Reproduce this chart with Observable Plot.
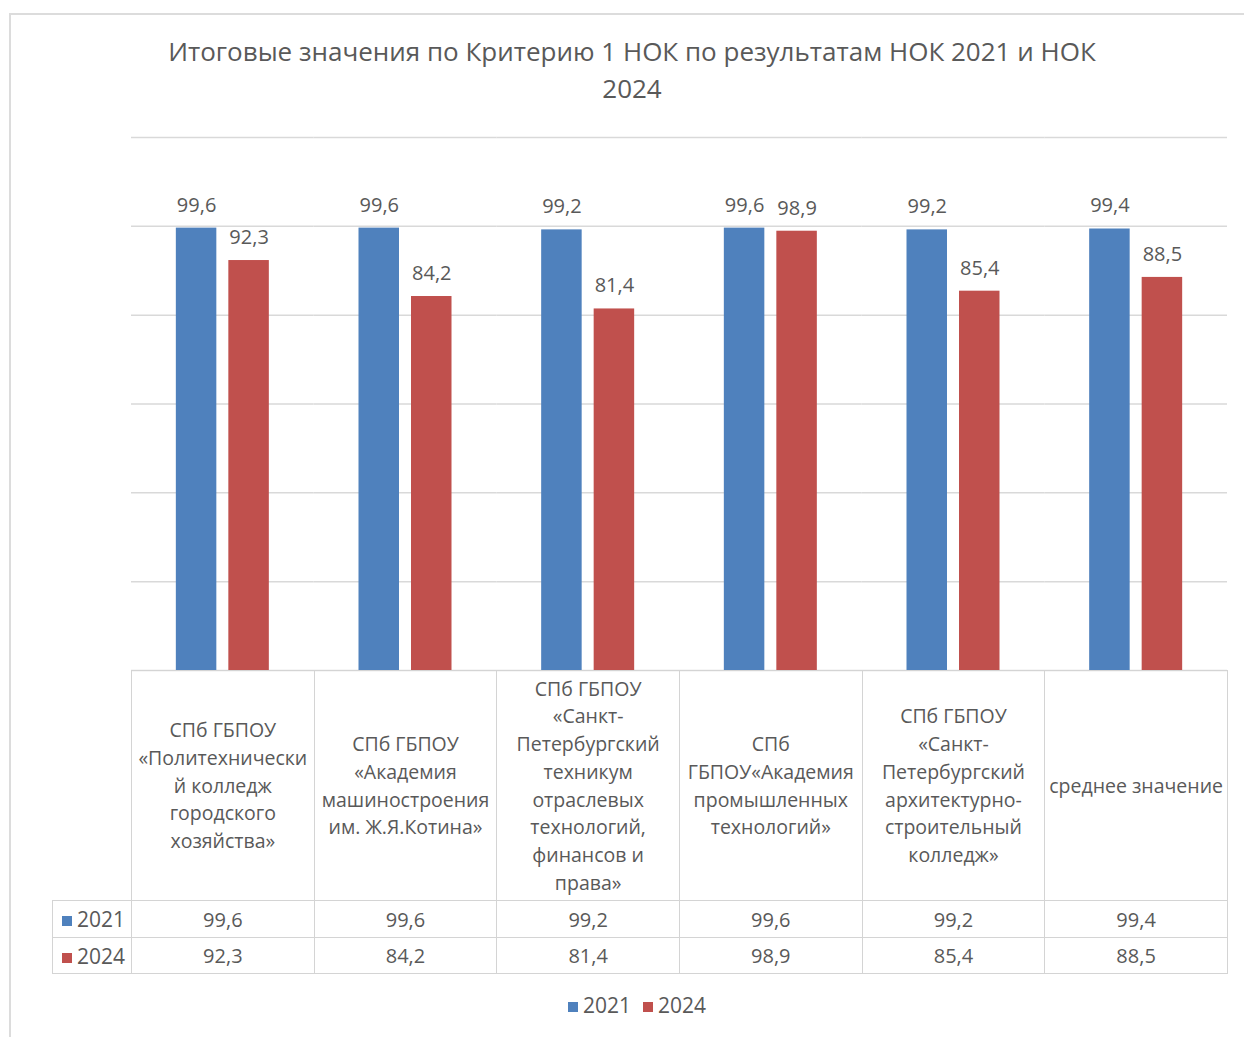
<!DOCTYPE html>
<html>
<head>
<meta charset="utf-8">
<script src="https://cdn.jsdelivr.net/npm/d3@7"></script>
<script src="https://cdn.jsdelivr.net/npm/@observablehq/plot@0.6"></script>
<style>
  html, body { margin: 0; padding: 0; background: #fff; }
  body { width: 1244px; height: 1037px; overflow: hidden; font-family: "Open Sans", "Noto Sans", sans-serif; color: #595959; }
  #wrap { position: relative; width: 1244px; height: 1037px; }
  #frame { position: absolute; left: 9px; top: 13px; width: 1260px; height: 1060px; border: 2px solid #dcdcdc; box-sizing: border-box; }
  #title { position: absolute; left: 132px; top: 33px; width: 1000px; text-align: center; font-size: 26px; line-height: 37px; color: #595959; }
  #chart { position: absolute; left: 0; top: 0; }
  #table { position: absolute; left: 52px; top: 670px; border-collapse: collapse; table-layout: fixed; }
  #table td { border: 1px solid #d4d4d4; text-align: center; vertical-align: middle; padding: 0; color: #595959; white-space: nowrap; }
  #table .hdr td { height: 229px; font-size: 19.5px; line-height: 27.7px; }
  #table .hdr td.blank { border: none; border-right: 1px solid #d4d4d4; }
  #table .row td { font-size: 20px; }
  #table .row td.lab { text-align: left; padding-left: 9px; font-size: 21px; }
  .sw { display: inline-block; width: 10px; height: 10px; margin-right: 5px; vertical-align: 1px; }
  #legend { position: absolute; left: 0; width: 1274px; top: 991px; text-align: center; font-size: 21px; color: #595959; }
  #legend span.item { margin: 0 6px; }
</style>
</head>
<body>
<div id="wrap">
  <div id="frame"></div>
  <div id="title"></div>
  <div id="chart"></div>
  <table id="table"></table>
  <div id="legend"></div>
</div>
<script>
const titleLines = ["Итоговые значения по Критерию 1 НОК по результатам НОК 2021 и НОК", "2024"];
const categories = [
  "СПб ГБПОУ «Политехнический колледж городского хозяйства»",
  "СПб ГБПОУ «Академия машиностроения им. Ж.Я.Котина»",
  "СПб ГБПОУ «Санкт-Петербургский техникум отраслевых технологий, финансов и права»",
  "СПб ГБПОУ«Академия промышленных технологий»",
  "СПб ГБПОУ «Санкт-Петербургский архитектурно-строительный колледж»",
  "среднее значение"
];
const categoryLines = [
  ["СПб ГБПОУ", "«Политехнически", "й колледж", "городского", "хозяйства»"],
  ["СПб ГБПОУ", "«Академия", "машиностроения", "им. Ж.Я.Котина»"],
  ["СПб ГБПОУ", "«Санкт-", "Петербургский", "техникум", "отраслевых", "технологий,", "финансов и", "права»"],
  ["СПб", "ГБПОУ«Академия", "промышленных", "технологий»"],
  ["СПб ГБПОУ", "«Санкт-", "Петербургский", "архитектурно-", "строительный", "колледж»"],
  ["среднее значение"]
];
const years = ["2021", "2024"];
const values2021 = [99.6, 99.6, 99.2, 99.6, 99.2, 99.4];
const values2024 = [92.3, 84.2, 81.4, 98.9, 85.4, 88.5];
const yTicks = [0, 20, 40, 60, 80, 100, 120];
const colors = ["#4f81bd", "#c0504d"];

const seriesValues = [values2021, values2024];
const data = [];
categories.forEach((c, i) => years.forEach((y, j) => data.push({category: c, year: y, value: seriesValues[j][i]})));
const fmt = v => d3.format(".1f")(v).replace(".", ",");

document.getElementById("title").innerHTML = titleLines.join("<br>");

const chart = Plot.plot({
  width: 1244,
  height: 672,
  marginLeft: 131,
  marginRight: 17,
  marginTop: 137,
  marginBottom: 2,
  style: {background: "transparent", fontFamily: "Open Sans, sans-serif"},
  fx: {domain: categories, paddingInner: 0, paddingOuter: 0, round: false, axis: null, label: null},
  x: {domain: years, paddingInner: 0.2286, paddingOuter: 0.854, round: false, axis: null},
  y: {domain: [0, 120], axis: null},
  color: {domain: years, range: colors},
  marks: [
    Plot.gridY(yTicks, {stroke: "#d9d9d9", strokeOpacity: 1, strokeWidth: 1.5}),
    Plot.barY(data, {fx: "category", x: "year", y: "value", fill: "year"}),
    Plot.text(data, {fx: "category", x: "year", y: "value", text: d => fmt(d.value), dy: -23, fill: "#595959", fontSize: 20})
  ]
});
document.getElementById("chart").appendChild(chart);

// data table
const table = document.getElementById("table");
const colW = (1227 - 131) / categories.length;
let html = `<colgroup><col style="width:79px">${categories.map(() => `<col style="width:${colW}px">`).join("")}</colgroup>`;
html += `<tr class="hdr"><td class="blank"></td>${categoryLines.map(l => `<td>${l.join("<br>")}</td>`).join("")}</tr>`;
years.forEach((y, j) => {
  html += `<tr class="row" style="height:${j === 0 ? 37 : 36}px"><td class="lab"><span class="sw" style="background:${colors[j]}"></span>${y}</td>${seriesValues[j].map(v => `<td>${fmt(v)}</td>`).join("")}</tr>`;
});
table.innerHTML = html;

document.getElementById("legend").innerHTML = years.map((y, j) => `<span class="item"><span class="sw" style="background:${colors[j]}"></span>${y}</span>`).join("");
</script>
</body>
</html>
